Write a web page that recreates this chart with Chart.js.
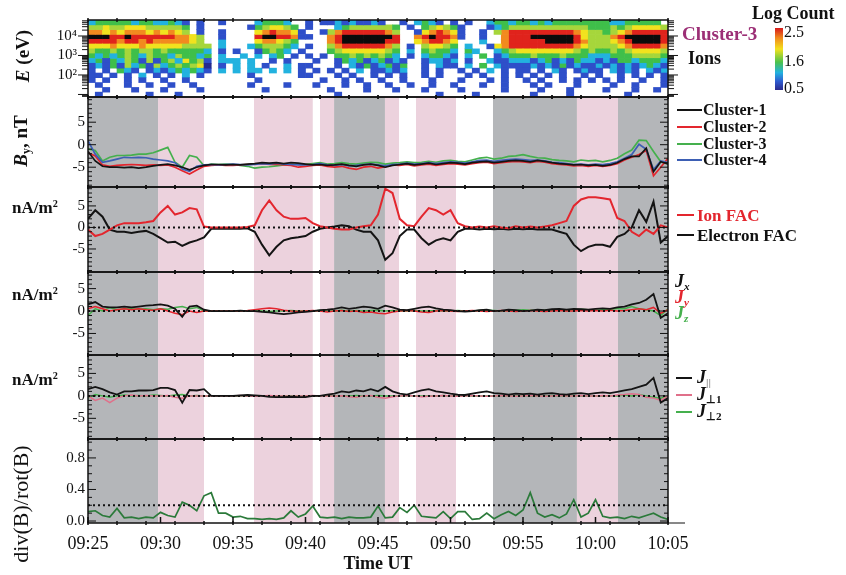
<!DOCTYPE html>
<html>
<head>
<meta charset="utf-8">
<script src="https://cdn.jsdelivr.net/npm/chart.js@4.4.1/dist/chart.umd.min.js"></script>
<style>
  body { margin: 0; background: #fff; }
  #wrap { position: relative; width: 846px; height: 575px; font-family: "Liberation Serif", "Times New Roman", serif; color: #111; }
  #wrap canvas { position: absolute; left: 0; top: 0; }
  .t { position: absolute; transform: translateY(-50%); white-space: nowrap; line-height: 1; font-weight: bold; }
  .rot { position: absolute; transform: translate(-50%, -50%) rotate(-90deg); white-space: nowrap; line-height: 1; }
  .key { position: absolute; height: 2px; }
  sub { font-size: 62%; vertical-align: -0.3em; }
  sup { font-size: 60%; vertical-align: 0.55em; }
</style>
</head>
<body>
<div id="wrap">
  <canvas id="chart" width="846" height="575"></canvas>

  <!-- colour bar of the spectrogram -->
  <div class="t" style="left:752px;top:13px;font-size:18px">Log Count</div>
  <div style="position:absolute;left:775px;top:28px;width:8px;height:62px;background:linear-gradient(to bottom,#d7191c 0%,#f08a1d 16%,#f3e11d 34%,#4cc24b 55%,#22b2df 72%,#2f5cd0 86%,#2b2a8d 100%)"></div>
  <div class="t" style="left:784px;top:32px;font-size:16px;font-weight:normal">2.5</div>
  <div class="t" style="left:784px;top:61px;font-size:16px;font-weight:normal">1.6</div>
  <div class="t" style="left:784px;top:88px;font-size:16px;font-weight:normal">0.5</div>
  <div class="t" style="left:682px;top:33px;font-size:19px;color:#9c2f76">Cluster-3</div>
  <div class="t" style="left:688px;top:58px;font-size:18px">Ions</div>

  <!-- left axis titles -->
  <div class="rot" style="left:22px;top:56px;font-size:19px;font-weight:bold"><i>E</i> (eV)</div>
  <div class="rot" style="left:22px;top:141px;font-size:19px;font-weight:bold"><i>B</i><sub>y</sub>, nT</div>
  <div class="t" style="left:12px;top:207px;font-size:17px">nA/m<sup>2</sup></div>
  <div class="t" style="left:12px;top:294px;font-size:17px">nA/m<sup>2</sup></div>
  <div class="t" style="left:12px;top:379px;font-size:17px">nA/m<sup>2</sup></div>
  <div class="rot" style="left:21px;top:504px;font-size:22px">div(B)/rot(B)</div>

  <!-- magnetic field legend -->
  <div class="key" style="left:677px;top:109px;width:25px;background:#141414"></div>
  <div class="t" style="left:703px;top:110px;font-size:16px">Cluster-1</div>
  <div class="key" style="left:677px;top:126px;width:25px;background:#e3262e"></div>
  <div class="t" style="left:703px;top:127px;font-size:16px">Cluster-2</div>
  <div class="key" style="left:677px;top:143px;width:25px;background:#45b04d"></div>
  <div class="t" style="left:703px;top:144px;font-size:16px">Cluster-3</div>
  <div class="key" style="left:677px;top:159px;width:25px;background:#3d5fb4"></div>
  <div class="t" style="left:703px;top:160px;font-size:16px">Cluster-4</div>

  <!-- field-aligned current legend -->
  <div class="key" style="left:677px;top:214px;width:17px;background:#e3262e"></div>
  <div class="t" style="left:697px;top:215px;font-size:17px;color:#e3262e">Ion FAC</div>
  <div class="key" style="left:677px;top:234px;width:17px;background:#141414"></div>
  <div class="t" style="left:697px;top:235px;font-size:17px">Electron FAC</div>

  <!-- current component legend -->
  <div class="t" style="left:675px;top:282px;font-size:18px"><i>J<sub>x</sub></i></div>
  <div class="t" style="left:675px;top:298px;font-size:18px;color:#e3262e"><i>J<sub>y</sub></i></div>
  <div class="t" style="left:675px;top:314px;font-size:18px;color:#45b04d"><i>J<sub>z</sub></i></div>

  <div class="key" style="left:676px;top:377px;width:16px;background:#141414"></div>
  <div class="t" style="left:697px;top:378px;font-size:18px"><i>J</i><sub style="color:#888">||</sub></div>
  <div class="key" style="left:676px;top:394px;width:16px;background:#e0708a"></div>
  <div class="t" style="left:697px;top:395px;font-size:18px"><i>J</i><sub>⊥1</sub></div>
  <div class="key" style="left:676px;top:411px;width:16px;background:#45b04d"></div>
  <div class="t" style="left:697px;top:412px;font-size:18px"><i>J</i><sub>⊥2</sub></div>
</div>

<script>
// time grid: minutes after 09:25 UT, every half minute
const minutes = [];
for (let i = 0; i <= 80; i++) minutes.push(i / 2);
const timeTicks = [0, 5, 10, 15, 20, 25, 30, 35, 40];
const timeLabels = ['09:25', '09:30', '09:35', '09:40', '09:45', '09:50', '09:55', '10:00', '10:05'];

// event intervals (minutes after 09:25)
const grayIntervals = [[0, 4.83], [16.97, 20.48], [27.93, 33.72], [36.55, 40]];
const pinkIntervals = [[4.83, 8.0], [11.45, 15.5], [16.0, 16.97], [20.48, 21.45], [22.62, 25.38], [33.72, 36.55]];

// ion spectrogram: energy channel edges (log10 eV), count level per half-minute bin
const energyEdges = [4.82, 4.57, 4.33, 4.08, 3.83, 3.59, 3.34, 3.09, 2.85, 2.60, 2.35, 2.10, 1.86, 1.61, 1.36, 1.12, 0.87];
const levelColors = ['#262b8f', '#2e4fc9', '#22b2df', '#3fbf4a', '#a6d63b', '#f1e21e', '#f28a1f', '#e0231c', '#0b0b0b'];
const specBin = 0.5;
const spectrogramRows = [
  '3444443443 3432.2..2. ...34443. .2.2232322 32..2.3432 .2.2..3443 4434344444 4443344444',
  '5565566655 5554.2.... ..2456654. 2...345555 554.2.4565 42...23455 5555555554 4454566665',
  '7767677767 6765.2..2. ...6787762 ..25788888 875..26787 62..2.5788 8888888765 5456788888',
  '9998898888 887765..2. ...8998872 2..7899999 998..78988 72..2..788 8999999865 5578999998',
  '8888788787 777765..3. ...677654. ...7899999 988..67887 6...3..788 8889999875 5567899998',
  '6667666766 6665555.3. ..3455543. 2..5788888 875.2.5665 4.3..26788 8888888765 5556788887',
  '5445454554 5444443.2. 2..24543.2 ...4566666 654.3.4544 3.43..3456 6666666545 4454566665',
  '4343454354 4354434.3. .3.3.34.2. 2.2.445454 543.2.3443 2.3.4.2344 4544454443 3344455554',
  '3424354252 4536452.33 3.3..2.2.. .2..243423 4232..2332 3.2..32233 3234232433 2324434443',
  '2324253425 3454561.2. 3.3.2..3.2 2...2.3242 3424..2.32 2.3.4.3222 2323242322 3232323432',
  '2.2.432.23 2343432.3. 3.33.3.3.2 .2.2.2.3.2 2323..2.2. .2.2.3.2.2 2.2.32.232 2.3232.323',
  '22.2.2.3.2 .2.3.2.... ..2......2 2...2.2..2 .2.2..2.2. ..2.2..2.2 .2.2.2..2. 2..2.2.2.2',
  '2.2..2.2.. 2..2...... ...2...... ..2..2.2.. 2..2...2.. .2...2.2.. 2.2..2.2.2 .2.2..2..2',
  '.2...2..2. .2..2..... ..2....2.. .2...2..2. .2..2..2.. 2...2..2.. .2.2...2.. ..2..2...2',
  '..2...2... 2....2.... ....2..... ...2....2. ..2...2... .2.....2.. ..2...2... .2...2..2.',
  '.2......2. ..2....... .......... ....2..... ........2. ...2...... .2....2... ....2.....'
];

// B_y (nT) from the four spacecraft
const c1By = [
  -1.5, -3.6, -4.8, -5.0, -5.0, -5.1, -5.0, -5.2, -5.0, -4.7,
  -4.5, -4.3, -4.6, -5.0, -5.6, -5.0, -4.6, -4.4, -4.4, -4.5,
  -4.4, -4.5, -4.3, -4.2, -4.0, -4.1, -4.0, -4.2, -4.0, -4.1,
  -4.3, -4.5, -4.4, -4.6, -4.5, -4.3, -4.6, -4.8, -4.5, -4.3,
  -4.6, -5.0, -4.6, -4.4, -4.2, -4.5, -4.3, -4.1, -4.4, -4.2,
  -4.0, -4.1, -4.3, -4.0, -3.8, -3.7, -4.0, -3.8, -3.6, -3.5,
  -3.6, -3.8, -3.5, -3.7, -4.0, -4.2, -4.3, -4.5, -4.4, -4.6,
  -4.5, -4.7, -4.5, -4.0, -3.2, -2.6, -2.6, -0.8, -6.0, -3.8,
  -4.3];
const c2By = [
  -1.8, -2.5, -4.5, -4.8, -4.6, -4.5, -4.4, -4.5, -4.6, -4.5,
  -4.6, -4.5, -5.0, -5.8, -6.5, -5.6, -4.8, -4.6, -4.5, -4.6,
  -4.6, -4.5, -4.4, -4.3, -4.2, -4.4, -4.3, -4.5, -4.6, -5.0,
  -4.8, -4.6, -4.5, -4.8, -5.0, -4.8, -5.2, -5.5, -5.0, -4.8,
  -5.2, -4.9, -4.5, -4.6, -4.4, -4.7, -4.5, -4.3, -4.6, -4.4,
  -4.2, -4.3, -4.5, -4.2, -4.0, -3.9, -4.2, -4.0, -3.8, -3.7,
  -3.8, -4.0, -3.7, -3.9, -4.2, -4.4, -4.5, -4.7, -4.6, -4.8,
  -4.6, -4.8, -4.6, -4.2, -3.4, -2.8, -2.2, -1.3, -6.9, -5.0,
  -3.0];
const c3By = [
  -0.9, -1.3, -3.6, -2.8, -2.4, -2.4, -2.3, -2.1, -2.1, -1.8,
  -1.2, -0.6, -3.9, -5.0, -2.4, -2.8, -4.7, -4.3, -4.4, -4.3,
  -4.4, -4.6, -4.8, -5.2, -5.0, -4.9, -4.7, -4.5, -4.4, -4.3,
  -4.4, -4.2, -4.0, -4.3, -4.2, -4.0, -4.2, -4.3, -4.1, -3.9,
  -4.0, -4.3, -4.1, -4.0, -3.8, -4.0, -3.9, -3.7, -3.9, -3.6,
  -3.5, -3.7, -3.8, -3.4, -3.0, -2.8, -3.2, -3.0, -2.6, -2.5,
  -2.2, -2.6, -2.9, -3.0, -3.3, -3.5, -3.6, -3.8, -3.4, -3.6,
  -3.5, -3.8, -3.5, -3.0, -2.0, -1.2, 1.0, 0.9, -1.5, -3.8,
  -4.3];
const c4By = [
  0.9, -2.1, -3.9, -3.6, -3.2, -2.8, -2.9, -2.8, -2.9, -3.2,
  -3.4, -3.6, -4.0, -5.4, -5.9, -4.8, -4.5, -4.4, -4.5, -4.4,
  -4.3, -4.4, -4.5, -4.4, -4.2, -4.3, -4.1, -4.3, -4.4, -4.5,
  -4.5, -4.4, -4.2, -4.5, -4.6, -4.4, -4.7, -4.6, -4.4, -4.3,
  -4.5, -4.7, -4.4, -4.3, -4.1, -4.3, -4.2, -4.0, -4.2, -4.0,
  -3.8, -3.9, -4.1, -3.8, -3.5, -3.4, -3.7, -3.5, -3.3, -3.2,
  -3.3, -3.5, -3.4, -3.6, -3.9, -4.0, -4.2, -4.4, -4.3, -4.5,
  -4.3, -4.4, -4.2, -3.8, -3.0, -2.2, 0.1, -1.0, -5.5, -3.6,
  -4.0];

// field-aligned currents (nA/m^2)
const ionFac = [
  -0.5, -2.0, -1.5, -0.5, 0.5, 1.0, 1.0, 1.0, 1.2, 1.5,
  3.5, 5.0, 3.0, 3.5, 4.5, 4.2, 0.2, 0.0, 0.0, 0.0,
  0.0, 0.0, 0.1, 0.5, 4.0, 6.3, 4.0, 2.5, 2.0, 2.0,
  2.2, 1.0, 0.3, 0.0, -0.3, -0.5, -0.5, 0.0, 0.3, 0.5,
  3.0, 9.0, 8.0, 2.0, 0.5, 0.3, 2.5, 4.5, 4.0, 3.0,
  4.0, 1.0, 0.3, 0.0, 0.2, 0.0, 0.3, 0.0, -0.2, 0.3,
  0.0, 0.2, 0.0, 0.2, 0.5, 1.0, 1.5, 5.0, 6.5, 7.0,
  7.0, 6.8, 6.5, 2.2, 1.5, -1.0, -2.0, -0.5, -1.5, 0.5,
  0.0];
const electronFac = [
  2.0, 4.0, 2.5, -0.5, -1.0, -1.0, -1.3, -1.0, -0.8, -1.5,
  -2.5, -3.5, -3.3, -4.3, -3.5, -3.0, -2.3, -0.3, -0.3, -0.3,
  -0.3, -0.3, -0.2, -1.0, -4.0, -6.5, -4.5, -3.0, -2.5, -2.3,
  -2.0, -1.0, -0.3, 0.0, 0.2, 0.5, 0.3, -0.5, -1.0, -1.0,
  -3.0, -7.5, -6.0, -2.0, -0.5, -0.5, -2.5, -4.0, -3.0, -2.5,
  -3.0, -1.0, -0.3, -0.3, -0.5, -0.3, -0.4, -0.3, -0.5, -0.3,
  -0.4, -0.3, -0.5, -0.4, -0.5, -1.0, -1.5, -4.0, -5.5, -4.5,
  -4.0, -4.0, -4.5, -2.2, -1.5, 0.0, 4.0, 1.3, 6.0, -3.5,
  -2.0];

// curlometer current components (nA/m^2)
const jx = [
  1.5, 2.0, 1.0, 0.8, 0.8, 1.0, 0.8, 1.0, 1.2, 1.3,
  1.5, 1.2, 0.5, -1.3, 1.0, 1.2, 0.3, 0.0, 0.0, 0.0,
  0.0, 0.1, 0.0, 0.0, -0.2, -0.3, -0.5, -0.7, -0.5, -0.3,
  -0.2, 0.0, 0.2, 0.3, 0.5, 0.8, 0.5, 0.7, 1.0, 0.8,
  0.5, 1.2, 0.8, 0.3, 0.2, 0.5, 0.8, 1.0, 0.6, 0.3,
  0.2, 0.0, -0.1, 0.0, 0.2, 0.3, 0.0, 0.1, 0.3, 0.2,
  0.0, 0.1, 0.3, 0.2, 0.4, 0.5, 0.3, 0.5, 0.4, 0.3,
  0.5, 0.6, 0.5, 0.8, 1.0, 1.5, 1.8, 2.5, 3.8, -1.5,
  -0.5];
const jy = [
  0.5, 1.0, 0.5, 0.0, 0.3, 0.5, 0.3, 0.5, 0.3, 0.2,
  0.5, 0.0, -0.5, -0.8, 0.0, -0.3, 0.0, 0.0, 0.0, 0.0,
  0.0, 0.0, 0.1, 0.3, 0.5, 0.7, 0.5, 0.2, 0.0, -0.1,
  0.0, 0.1, 0.0, -0.2, 0.0, 0.1, -0.1, 0.0, -0.3, -0.2,
  -0.5, -0.6, -0.2, 0.0, 0.1, 0.0, -0.2, -0.3, 0.0, 0.1,
  0.0, -0.1, 0.0, 0.1, 0.0, -0.1, 0.0, 0.1, 0.0, -0.1,
  0.0, 0.1, 0.0, -0.1, 0.0, 0.1, 0.0, 0.0, 0.1, 0.0,
  0.1, 0.0, 0.2, 0.0, 0.1, 0.3, 0.5, 0.3, 0.8, -0.5,
  0.3];
const jz = [
  -1.0, 0.5, 0.0, 0.8, 0.3, 0.5, 0.5, 0.4, 0.5, 0.3,
  0.5, 0.4, 0.8, 1.0, 0.5, 0.8, 0.0, 0.0, 0.0, 0.0,
  0.0, 0.0, 0.0, 0.1, 0.0, -0.1, 0.0, 0.0, 0.1, 0.0,
  0.0, 0.0, 0.1, 0.0, 0.0, 0.2, 0.0, 0.1, 0.0, 0.1,
  0.2, 0.0, 0.1, 0.0, 0.0, 0.1, 0.0, 0.0, 0.1, 0.0,
  0.0, 0.1, 0.0, 0.0, 0.1, 0.2, 0.1, 0.0, 0.1, 0.2,
  0.3, 0.2, 0.1, 0.2, 0.3, 0.2, 0.1, 0.3, 0.4, 0.3,
  0.2, 0.3, 0.4, 0.5, 0.5, 1.0, 0.5, 0.3, 0.0, -1.0,
  0.5];

// parallel and perpendicular currents (nA/m^2)
const jPar = [
  1.5, 2.0, 1.5, 0.8, 0.3, 1.0, 1.0, 1.2, 1.2, 1.3,
  1.8, 1.8, 1.3, -1.5, 1.3, 1.2, 1.5, 0.0, 0.0, 0.0,
  0.0, 0.1, 0.2, 0.1, 0.0, -0.2, -0.3, -0.3, -0.2, -0.3,
  -0.3, 0.0, 0.0, 0.3, 0.5, 1.0, 0.8, 1.2, 1.0, 1.5,
  1.0, 2.0, 1.0, 0.5, 0.3, 0.8, 1.2, 1.5, 1.0, 0.8,
  0.5, 0.3, 0.2, 0.5, 0.8, 1.0, 0.6, 0.5, 0.3, 0.5,
  0.4, 0.5, 0.3, 0.5, 0.6, 0.4, 0.3, 0.5, 0.6, 0.4,
  0.6, 0.8, 0.6, 0.9, 1.2, 1.5, 2.0, 2.5, 4.0, -1.5,
  -0.5];
const jPerp1 = [
  0.0, -1.0, -0.5, -1.5, -0.5, 0.0, 0.2, 0.0, 0.1, 0.0,
  0.0, 0.1, -0.3, -0.5, 0.0, 0.0, 0.0, 0.0, 0.0, 0.0,
  0.0, 0.1, 0.0, -0.1, 0.0, 0.1, 0.0, 0.0, -0.1, 0.0,
  0.0, 0.1, 0.0, 0.0, -0.1, 0.0, -0.2, -0.3, 0.0, 0.1,
  -0.3, -0.5, -0.2, 0.0, 0.1, 0.0, -0.2, -0.1, 0.0, 0.1,
  0.0, -0.1, 0.0, 0.1, 0.0, -0.1, 0.0, 0.1, 0.0, -0.1,
  0.0, 0.1, 0.0, -0.1, 0.0, 0.1, 0.0, 0.0, 0.1, 0.0,
  0.0, 0.1, 0.0, 0.2, 0.3, 0.5, 0.3, -0.3, -0.5, -1.0,
  0.0];
const jPerp2 = [
  -0.5, 0.3, 0.0, -0.3, 0.0, 0.2, 0.0, 0.1, 0.0, 0.2,
  0.1, 0.0, 0.2, 0.3, 0.0, 0.1, 0.0, 0.0, 0.0, 0.0,
  0.0, 0.0, 0.1, 0.0, 0.0, 0.0, -0.1, 0.0, 0.0, 0.0,
  0.0, 0.0, 0.0, 0.1, 0.0, 0.0, 0.0, 0.1, 0.0, 0.0,
  0.1, 0.0, 0.0, 0.0, 0.1, 0.0, 0.0, 0.0, 0.0, 0.1,
  0.0, 0.0, 0.1, 0.0, 0.0, 0.0, 0.0, 0.1, 0.0, 0.0,
  0.1, 0.0, 0.0, 0.0, 0.1, 0.0, 0.0, 0.1, 0.0, 0.0,
  0.0, 0.0, 0.1, 0.0, 0.2, 0.0, 0.3, 0.0, -0.3, -0.5,
  0.0];

// quality ratio |div B| / |rot B|
const divRot = [
  0.12, 0.13, 0.07, 0.05, 0.16, 0.04, 0.05, 0.03, 0.05, 0.04,
  0.11, 0.07, 0.05, 0.24, 0.20, 0.13, 0.32, 0.36, 0.10, 0.10,
  0.05, 0.06, 0.03, 0.03, 0.02, 0.03, 0.02, 0.04, 0.13, 0.05,
  0.09, 0.19, 0.05, 0.04, 0.05, 0.03, 0.05, 0.04, 0.04, 0.05,
  0.19, 0.04, 0.05, 0.17, 0.11, 0.20, 0.06, 0.05, 0.04, 0.12,
  0.03, 0.12, 0.12, 0.02, 0.03, 0.10, 0.03, 0.08, 0.12, 0.07,
  0.14, 0.36, 0.10, 0.05, 0.08, 0.04, 0.09, 0.27, 0.05, 0.10,
  0.27, 0.06, 0.04, 0.05, 0.03, 0.06, 0.04, 0.07, 0.10, 0.05,
  0.02];
const divThreshold = 0.2;
const zeroLevel = 0;

// y tick values per panel
const energyTicks = [2, 3, 4];
const currentTicks = [-5, 0, 5];
const divTicks = [0, 0.4, 0.8];

Chart.defaults.font.family = '"Liberation Serif", "Times New Roman", serif';
Chart.defaults.color = '#111';

// spectrogram cells as floating bars, one dataset per count level
const specSets = levelColors.map(color => ({
  type: 'bar', yAxisID: 'yE', backgroundColor: color, borderWidth: 0,
  grouped: false, barPercentage: 1, categoryPercentage: 1, data: []
}));
spectrogramRows.forEach((rowText, r) => {
  const row = rowText.replace(/ /g, '');
  for (let c = 0; c < row.length; c++) {
    if (row[c] === '.') continue;
    specSets[+row[c] - 1].data.push({x: (c + 0.5) * specBin, y: [energyEdges[r + 1], energyEdges[r]]});
  }
});

function line(data, color, axis, width) {
  return {type: 'line', data: data, yAxisID: axis, borderColor: color, borderWidth: width || 1.5,
          pointRadius: 0, tension: 0, fill: false};
}
function level(value, axis) {
  return {type: 'line', data: [{x: 0, y: value}, {x: 40, y: value}], yAxisID: axis,
          borderColor: '#111', borderWidth: 2, borderDash: [2, 3], pointRadius: 0};
}

function panelAxis(min, max, weight, values, format, pad) {
  return {
    type: 'linear', position: 'left', stack: 'panels', stackWeight: weight,
    min: min, max: max, offset: false, beginAtZero: false,
    grid: {display: false, drawTicks: false}, border: {display: false},
    afterBuildTicks: s => { s.ticks = values.map(v => ({value: v})); },
    afterFit: s => { s.width = 88; },
    ticks: {padding: pad || 3, color: '#111', font: {size: 15}, callback: format || (v => String(v))}
  };
}

const panelIds = ['yE', 'yB', 'yFac', 'yJ', 'yJp', 'yDiv'];
const minorStep = {yB: 1, yFac: 1, yJ: 1, yJp: 1, yDiv: 0.1};

const shading = {
  id: 'shading',
  beforeDatasetsDraw(chart) {
    const {ctx, scales} = chart;
    const top = scales.yB.top, bottom = scales.yDiv.bottom;
    ctx.save();
    const paint = (list, color) => {
      ctx.fillStyle = color;
      list.forEach(([a, b]) => {
        const x0 = scales.x.getPixelForValue(a), x1 = scales.x.getPixelForValue(b);
        ctx.fillRect(x0, top, x1 - x0, bottom - top);
      });
    };
    paint(grayIntervals, '#b4b6b9');
    paint(pinkIntervals, '#ecd2dd');
    ctx.restore();
  }
};

const frames = {
  id: 'frames',
  afterDatasetsDraw(chart) {
    const {ctx, scales, chartArea} = chart;
    const L = chartArea.left, R = chartArea.right, xs = scales.x;
    const seg = (x0, y0, x1, y1) => { ctx.beginPath(); ctx.moveTo(x0, y0); ctx.lineTo(x1, y1); ctx.stroke(); };
    ctx.save();
    ctx.strokeStyle = '#111';
    panelIds.forEach(id => {
      const s = scales[id];
      ctx.lineWidth = 1.5;
      ctx.strokeRect(L, s.top, R - L, s.bottom - s.top);
      ctx.lineWidth = 1;
      if (id === 'yE') {
        // log minor ticks, pointing outwards
        for (let d = 0; d <= 4; d++) {
          for (let m = 1; m <= 9; m++) {
            const v = d + Math.log10(m);
            if (v < s.min || v > s.max) continue;
            const y = s.getPixelForValue(v), len = m === 1 ? 10 : 6;
            seg(L - len, y, L, y);
            seg(R, y, R + len, y);
          }
        }
      } else {
        const step = minorStep[id];
        for (let v = Math.ceil(s.min / step) * step; v <= s.max + 1e-9; v += step) {
          const y = s.getPixelForValue(v);
          const major = s.ticks.some(t => Math.abs(t.value - v) < 1e-6);
          const len = major ? 8 : 4;
          seg(L, y, L + len, y);
          seg(R - len, y, R, y);
        }
      }
      // time ticks every 2 minutes along both edges
      ctx.lineWidth = 1.5;
      for (let t = 0; t <= 40; t += 2) {
        const x = xs.getPixelForValue(t);
        seg(x, s.top - 2, x, s.top + 2);
        seg(x, s.bottom - 2, x, s.bottom + 2);
      }
    });
    const base = scales.yDiv.bottom;
    timeTicks.forEach(t => {
      const x = xs.getPixelForValue(t);
      seg(x, base, x, base - 6);
    });
    ctx.lineWidth = 1;
    seg(R, base, R + 17, base);
    ctx.restore();
  }
};

new Chart(document.getElementById('chart'), {
  type: 'line',
  data: {
    labels: minutes,
    datasets: [
      level(zeroLevel, 'yFac'), level(zeroLevel, 'yJ'), level(zeroLevel, 'yJp'), level(divThreshold, 'yDiv'),
      line(c1By, '#141414', 'yB', 1.7), line(c4By, '#3d5fb4', 'yB', 1.7), line(c2By, '#e3262e', 'yB', 1.7), line(c3By, '#45b04d', 'yB', 1.7),
      line(ionFac, '#e3262e', 'yFac', 2), line(electronFac, '#141414', 'yFac', 2),
      line(jx, '#141414', 'yJ', 1.8), line(jy, '#e3262e', 'yJ'), line(jz, '#45b04d', 'yJ'),
      line(jPar, '#141414', 'yJp', 1.8), line(jPerp1, '#e0708a', 'yJp'), line(jPerp2, '#45b04d', 'yJp'),
      line(divRot, '#2b7a3a', 'yDiv', 1.7)
    ].concat(specSets)
  },
  options: {
    responsive: false, animation: false, devicePixelRatio: 1, events: [],
    layout: {padding: {top: 20, right: 178, bottom: 0, left: 0}},
    plugins: {legend: {display: false}, tooltip: {enabled: false}},
    scales: {
      x: {
        type: 'linear', position: 'bottom', min: 0, max: 40, offset: false,
        grid: {display: false, drawTicks: false, offset: false}, border: {display: false},
        afterBuildTicks: s => { s.ticks = timeTicks.map(v => ({value: v})); },
        afterFit: s => { s.height = 52; },
        ticks: {padding: 10, color: '#111', font: {size: 18}, maxRotation: 0, autoSkip: false,
                callback: (v, i) => timeLabels[i]},
        title: {display: true, text: 'Time UT', color: '#111', font: {size: 18, weight: 'bold'}, padding: 0}
      },
      yDiv: panelAxis(-0.025, 1.04, 84, divTicks, v => v.toFixed(1)),
      yJp: panelAxis(-9.6, 9.1, 84, currentTicks),
      yJ: panelAxis(-9.8, 8.7, 83, currentTicks),
      yFac: panelAxis(-10.35, 9.4, 85, currentTicks),
      yB: panelAxis(-9.4, 10.6, 90, currentTicks),
      yE: panelAxis(0.87, 4.82, 77, energyTicks, v => '10' + {2: '²', 3: '³', 4: '⁴'}[v], 11)
    }
  },
  plugins: [shading, frames]
});
</script>
</body>
</html>
